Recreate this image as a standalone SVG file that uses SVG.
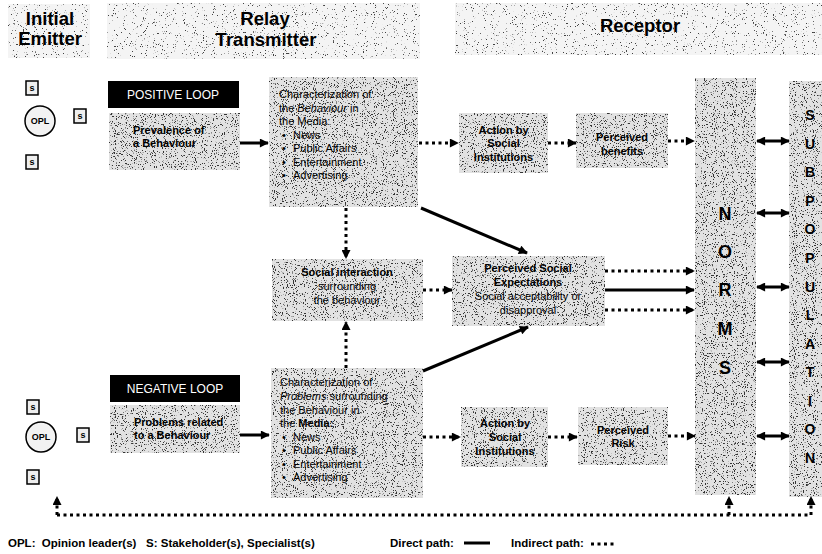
<svg xmlns="http://www.w3.org/2000/svg" width="822" height="554" viewBox="0 0 822 554">
<defs>
<style>
text{font-family:"Liberation Sans",Arial,sans-serif;fill:#000}
.hd{font-size:18.5px;font-weight:bold;text-anchor:middle}
.b{font-size:11px;font-weight:bold}
.r{font-size:11px}
.c{text-anchor:middle}
.loop{font-size:12px;fill:#fff;text-anchor:middle}
.big{font-size:18px;font-weight:bold;text-anchor:middle}
.sub{font-size:14px;font-weight:bold;text-anchor:middle}
.tex{fill:#e2e2e2;filter:url(#tx)}
.htex{fill:#f4f4f4;filter:url(#htx)}
.sbox{fill:#eeeeee;stroke:#000;stroke-width:1.5}
.st{font-size:9px;font-weight:bold;text-anchor:middle}
.solid{fill:none;stroke:#000;stroke-width:3;marker-end:url(#ah)}
.dot{fill:none;stroke:#000;stroke-width:3;stroke-dasharray:3 3.5;marker-end:url(#ah)}
.dotn{fill:none;stroke:#000;stroke-width:3;stroke-dasharray:3 3.5}
.dbl{fill:none;stroke:#000;stroke-width:3;marker-start:url(#ah);marker-end:url(#ah)}
.leg{font-size:11.5px;font-weight:bold}
</style>
<filter id="tx" x="0" y="0" width="100%" height="100%" color-interpolation-filters="sRGB">
<feTurbulence type="fractalNoise" baseFrequency="0.9" numOctaves="2" seed="4" result="n"/>
<feColorMatrix in="n" type="matrix" values="0 0 0 0 0.2  0 0 0 0 0.2  0 0 0 0 0.2  14 0 0 0 -8.5" result="d"/>
<feComposite in="d" in2="SourceAlpha" operator="in" result="dc"/>
<feMerge><feMergeNode in="SourceGraphic"/><feMergeNode in="dc"/></feMerge>
</filter>
<filter id="htx" x="0" y="0" width="100%" height="100%" color-interpolation-filters="sRGB">
<feTurbulence type="fractalNoise" baseFrequency="0.9" numOctaves="2" seed="9" result="n"/>
<feColorMatrix in="n" type="matrix" values="0 0 0 0 0.25  0 0 0 0 0.25  0 0 0 0 0.25  14 0 0 0 -9.4" result="d"/>
<feComposite in="d" in2="SourceAlpha" operator="in" result="dc"/>
<feMerge><feMergeNode in="SourceGraphic"/><feMergeNode in="dc"/></feMerge>
</filter>
<marker id="ah" viewBox="0 0 10 10" refX="9" refY="5" markerWidth="10" markerHeight="9" markerUnits="userSpaceOnUse" orient="auto-start-reverse">
<path d="M0,0 L10,5 L0,10 z" fill="#000"/>
</marker>
</defs>
<rect width="822" height="554" fill="#fff"/>

<g id="header-initial-emitter">
<rect class="htex" x="8" y="4" width="82" height="54"/>
<text class="hd" x="50" y="25">Initial</text>
<text class="hd" x="50" y="45">Emitter</text>
</g>
<g id="header-relay-transmitter">
<rect class="htex" x="107" y="3" width="313" height="56"/>
<text class="hd" x="265" y="25">Relay</text>
<text class="hd" x="266" y="46">Transmitter</text>
</g>
<g id="header-receptor">
<rect class="htex" x="455" y="3" width="367" height="52"/>
<text class="hd" x="640" y="32">Receptor</text>
</g>

<g id="emitter-positive">
<rect class="sbox" x="26" y="81" width="12" height="14"/><text class="st" x="32" y="91">s</text>
<circle cx="40" cy="121" r="15" fill="#f2f2f2" stroke="#000" stroke-width="1.5"/><text class="st" x="40" y="124">OPL</text>
<rect class="sbox" x="74" y="109" width="12" height="14"/><text class="st" x="80" y="119">s</text>
<rect class="sbox" x="26" y="155" width="12" height="14"/><text class="st" x="32" y="165">s</text>
</g>
<g id="emitter-negative">
<rect class="sbox" x="27" y="400" width="12" height="14"/><text class="st" x="33" y="410">s</text>
<circle cx="41" cy="437" r="15" fill="#f2f2f2" stroke="#000" stroke-width="1.5"/><text class="st" x="41" y="440">OPL</text>
<rect class="sbox" x="77" y="428" width="12" height="14"/><text class="st" x="83" y="438">s</text>
<rect class="sbox" x="27" y="470" width="12" height="14"/><text class="st" x="33" y="480">s</text>
</g>

<g id="positive-loop">
<rect x="108" y="81" width="131" height="27" fill="#000"/>
<text class="loop" x="173" y="99">POSITIVE LOOP</text>
</g>
<g id="prevalence">
<rect class="tex" x="109" y="113" width="131" height="57"/>
<text class="b" x="133" y="134">Prevalence of</text>
<text class="b" x="133" y="147">a Behaviour</text>
</g>
<g id="char-positive">
<rect class="tex" x="269" y="77" width="149" height="130"/>
<text class="r" x="279" y="98">Characterization of</text>
<text class="r" x="279" y="111.5">the <tspan font-style="italic">Behaviour</tspan> in</text>
<text class="r" x="279" y="125">the Media:</text>
<text class="r" x="282" y="138.5">•</text><text class="r" x="293" y="138.5">News</text>
<text class="r" x="282" y="152">•</text><text class="r" x="293" y="152">Public Affairs</text>
<text class="r" x="282" y="165.5">•</text><text class="r" x="293" y="165.5">Entertainment</text>
<text class="r" x="282" y="179">•</text><text class="r" x="293" y="179">Advertising</text>
</g>
<g id="action-positive">
<rect class="tex" x="459" y="113" width="89" height="60"/>
<text class="b c" x="503.5" y="134">Action by</text>
<text class="b c" x="503.5" y="147">Social</text>
<text class="b c" x="503.5" y="161">Institutions</text>
</g>
<g id="perceived-benefits">
<rect class="tex" x="576" y="113" width="92" height="55"/>
<text class="b c" x="622" y="141">Perceived</text>
<text class="b c" x="622" y="155">benefits</text>
</g>

<g id="social-interaction">
<rect class="tex" x="272" y="259" width="151" height="62"/>
<text class="b c" x="347" y="276">Social interaction</text>
<text class="r c" x="347" y="290">surrounding</text>
<text class="r c" x="347" y="304">the behaviour</text>
</g>
<g id="perceived-social-expectations">
<rect class="tex" x="452" y="256" width="153" height="70"/>
<text class="b c" x="528" y="272">Perceived Social</text>
<text class="b c" x="528" y="286">Expectations</text>
<text class="r c" x="528" y="300">Social acceptability or</text>
<text class="r c" x="528" y="314">disapproval</text>
</g>

<g id="negative-loop">
<rect x="110" y="375" width="130" height="27" fill="#000"/>
<text class="loop" x="175" y="393">NEGATIVE LOOP</text>
</g>
<g id="problems">
<rect class="tex" x="110" y="405" width="130" height="48"/>
<text class="b" x="134" y="426">Problems related</text>
<text class="b" x="134" y="439">to a Behaviour</text>
</g>
<g id="char-negative">
<rect class="tex" x="271" y="368" width="152" height="130"/>
<text class="r" x="280" y="386">Characterization of</text>
<text class="r" x="280" y="400"><tspan font-style="italic">Problems</tspan> surrounding</text>
<text class="r" x="280" y="413.5">the Behaviour in</text>
<text class="r" x="280" y="427">the <tspan font-weight="bold">Media:</tspan></text>
<text class="r" x="282" y="440.5">•</text><text class="r" x="293" y="440.5">News</text>
<text class="r" x="282" y="454">•</text><text class="r" x="293" y="454">Public Affairs</text>
<text class="r" x="282" y="467.5">•</text><text class="r" x="293" y="467.5">Entertainment</text>
<text class="r" x="282" y="481">•</text><text class="r" x="293" y="481">Advertising</text>
</g>
<g id="action-negative">
<rect class="tex" x="461" y="407" width="87" height="60"/>
<text class="b c" x="505" y="427">Action by</text>
<text class="b c" x="505" y="441">Social</text>
<text class="b c" x="505" y="455">Institutions</text>
</g>
<g id="perceived-risk">
<rect class="tex" x="578" y="407" width="90" height="58"/>
<text class="b c" x="623" y="434">Perceived</text>
<text class="b c" x="623" y="447">Risk</text>
</g>

<g id="norms">
<rect class="tex" x="695" y="78" width="61" height="417"/>
<text class="big" x="725" y="220">N</text>
<text class="big" x="725" y="258">O</text>
<text class="big" x="725" y="296">R</text>
<text class="big" x="725" y="335">M</text>
<text class="big" x="725" y="374">S</text>
</g>
<g id="subpopulation">
<rect class="tex" x="789" y="81" width="33" height="416"/>
<text class="sub" x="810" y="120">S</text>
<text class="sub" x="810" y="148.6">U</text>
<text class="sub" x="810" y="177.2">B</text>
<text class="sub" x="810" y="205.8">P</text>
<text class="sub" x="810" y="234.3">O</text>
<text class="sub" x="810" y="262.9">P</text>
<text class="sub" x="810" y="291.5">U</text>
<text class="sub" x="810" y="320.1">L</text>
<text class="sub" x="810" y="348.7">A</text>
<text class="sub" x="810" y="377.3">T</text>
<text class="sub" x="810" y="405.8">I</text>
<text class="sub" x="810" y="434.4">O</text>
<text class="sub" x="810" y="463">N</text>
</g>

<g id="connectors">
<path class="solid" d="M240,143 H268"/>
<path class="solid" d="M240,435 H269"/>
<path class="dot" d="M419,143 H458"/>
<path class="dot" d="M548,143 H576"/>
<path class="dot" d="M668,141 H694"/>
<path class="dot" d="M346,208 V258"/>
<path class="dot" d="M346,368 V322"/>
<path class="solid" d="M421,208 L527,253"/>
<path class="solid" d="M423,371 L528,327"/>
<path class="dot" d="M423,290 H452"/>
<path class="dot" d="M605,271 H694"/>
<path class="solid" d="M605,290 H694"/>
<path class="dot" d="M605,310 H694"/>
<path class="dot" d="M423,437 H460"/>
<path class="dot" d="M548,437 H577"/>
<path class="dot" d="M668,436 H695"/>
<path class="dbl" d="M757,141 H789"/>
<path class="dbl" d="M757,213 H789"/>
<path class="dbl" d="M757,287 H789"/>
<path class="dbl" d="M757,362 H789"/>
<path class="dbl" d="M757,436 H789"/>
<path class="dotn" d="M57,515 H811"/>
<path class="dot" d="M57,515 V497"/>
<path class="dot" d="M729,515 V497"/>
<path class="dot" d="M811,515 V497"/>
</g>

<g id="legend">
<text class="leg" x="8" y="547" xml:space="preserve">OPL:  Opinion leader(s)   S: Stakeholder(s), Specialist(s)</text>
<text class="leg" x="390" y="547">Direct path:</text>
<path d="M464,543 H490" stroke="#000" stroke-width="3"/>
<text class="leg" x="511" y="547">Indirect path:</text>
<path class="dotn" d="M591,544 H614"/>
</g>
</svg>
